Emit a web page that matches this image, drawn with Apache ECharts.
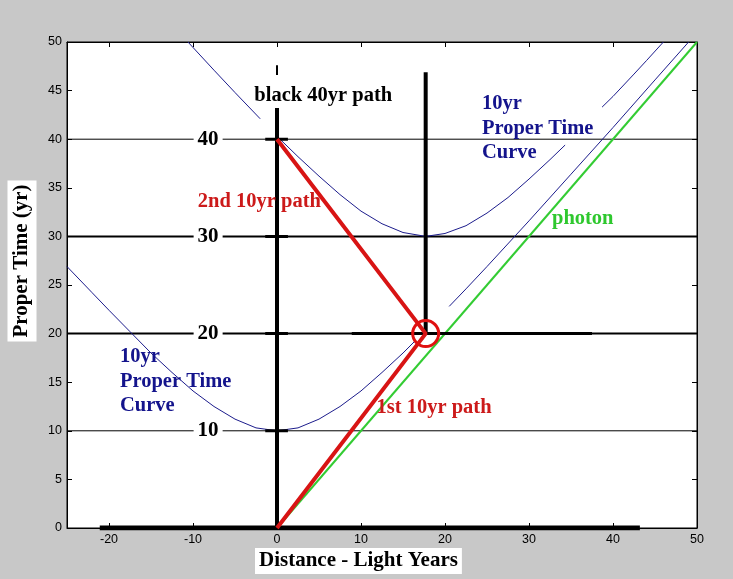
<!DOCTYPE html>
<html>
<head>
<meta charset="utf-8">
<script src="https://cdn.jsdelivr.net/npm/echarts@6/dist/echarts.min.js"></script>
<style>
html, body { margin: 0; padding: 0; background: #c8c8c8; }
#chart { width: 733px; height: 579px; }
</style>
</head>
<body>
<div id="chart"></div>
<script>
// tick labels
var xTickLabels = [-20, -10, 0, 10, 20, 30, 40, 50];

// reference lines across the plot (proper time levels)
var levelLines = [10, 20, 30, 40];
var levelWidths = [1, 2, 2, 1];
var levelLabelX = -8.2;

// 10yr proper time curve around the origin (gaps kept)
var lowerCurveA = [[-25, 26.9], [-22, 24.2], [-20, 22.4], [-17.5, 20.2], [-15, 18.0], [-12.5, 16.0],
  [-10, 14.1], [-7.5, 12.5], [-5, 11.2], [-2.5, 10.3], [0, 10.0], [2.5, 10.3], [5, 11.2],
  [7.5, 12.5], [10, 14.1], [12.5, 16.0], [15, 18.0], [16.5, 19.3]];
var lowerCurveB = [[20.5, 22.8], [22.5, 24.6], [25, 26.9], [30, 31.6], [35, 36.4], [40, 41.2],
  [45, 46.1], [49, 50.0]];

// 10yr proper time curve around the turn-around point
var upperCurveA = [[-10.6, 50.0], [-7.5, 47.1], [-5, 44.8], [-2, 42.1]];
var upperCurveB = [[0, 40.3], [2.5, 38.2], [5, 36.2], [7.5, 34.3], [10, 32.6], [12.5, 31.3],
  [15, 30.4], [17.7, 30.0], [20, 30.3], [22.5, 31.1], [25, 32.4], [27.5, 34.0], [30, 35.9],
  [32.5, 37.9], [34.3, 39.4]];
var upperCurveC = [[38.7, 43.3], [40, 44.4], [42.5, 46.7], [44, 48.1], [46, 50.0]];

var photon = [[0, 0], [50, 50]];
var redPath = [[0, 0], [17.7, 20], [0, 40]];
var turnPoint = [17.7, 20];

// thick black strokes [points, width]
var blackStrokes = [
  [[[0, 0], [0, 43.2]], 4],
  [[[0, 46.6], [0, 47.6]], 2],
  [[[17.7, 20], [17.7, 46.9]], 4],
  [[[8.9, 20], [37.5, 20]], 3],
  [[[-21.1, 0], [43.2, 0]], 5],
  [[[-1.4, 40], [1.3, 40]], 3],
  [[[-1.4, 30], [1.3, 30]], 3],
  [[[-1.4, 20], [1.3, 20]], 3],
  [[[-1.4, 10], [1.3, 10]], 3]
];

// annotations [x, y, text, colour, align]
var notes = [
  [5.5, 44.5, 'black 40yr path', '#000000', 'center'],
  [24.4, 41.1, '10yr\nProper Time\nCurve', '#14148c', 'left'],
  [-2.1, 33.6, '2nd 10yr path', '#cc1a1a', 'center'],
  [36.4, 31.8, 'photon', '#2ec82e', 'center'],
  [-18.7, 15.1, '10yr\nProper Time\nCurve', '#14148c', 'left'],
  [18.7, 12.4, '1st 10yr path', '#cc1a1a', 'center']
];

var serif = '"Liberation Serif", "Times New Roman", serif';
var chart = echarts.init(document.getElementById('chart'));

function lineSeries(data, color, width, z) {
  return {
    type: 'line', data: data, symbol: 'none', silent: true, z: z,
    lineStyle: { color: color, width: width }
  };
}

var series = [];
levelLines.forEach(function (y, i) {
  series.push(lineSeries([[-25, y], [50, y]], '#000', levelWidths[i], 1));
});
[lowerCurveA, lowerCurveB, upperCurveA, upperCurveB, upperCurveC].forEach(function (c) {
  series.push(lineSeries(c, '#1c1c8c', 1, 2));
});
series.push(lineSeries(photon, '#33cc33', 2, 3));
blackStrokes.forEach(function (s) {
  series.push(lineSeries(s[0], '#000', s[1], 4));
});
series.push(lineSeries(redPath, '#d81414', 4, 5));
series.push({
  type: 'scatter', data: [turnPoint], symbol: 'circle', symbolSize: 26, z: 6, silent: true,
  itemStyle: { color: 'rgba(0,0,0,0)', borderColor: '#e01010', borderWidth: 3, opacity: 1 }
});

// big level numbers on white boxes
series.push({
  type: 'scatter', symbolSize: 0, z: 7, silent: true,
  itemStyle: { opacity: 1 },
  data: levelLines.map(function (y) { return [levelLabelX, y]; }),
  label: {
    show: true, position: 'inside', formatter: function (p) { return p.value[1]; },
    fontFamily: serif, fontWeight: 'bold', fontSize: 21, color: '#000',
    backgroundColor: '#fff', padding: [0, 4]
  }
});

// text notes
series.push({
  type: 'scatter', symbolSize: 0, z: 8, silent: true,
  itemStyle: { opacity: 1 },
  data: notes.map(function (n) {
    return {
      value: [n[0], n[1]],
      label: {
        show: true, position: n[4] === 'left' ? 'right' : 'inside', distance: 0,
        formatter: n[2], color: n[3], align: n[4],
        fontFamily: serif, fontWeight: 'bold', fontSize: 20.5, lineHeight: 24.5
      }
    };
  })
});

var tickText = { color: '#000', fontFamily: '"Liberation Sans", Arial, sans-serif', fontSize: 12.5 };
var axisLineStyle = { show: true, onZero: false, lineStyle: { color: '#000' } };

chart.setOption({
  animation: false,
  backgroundColor: '#c8c8c8',
  grid: {
    left: 67, right: 36, top: 42, bottom: 51,
    show: true, backgroundColor: '#fff', borderColor: '#000', borderWidth: 1
  },
  xAxis: [{
    type: 'value', min: -25, max: 50, position: 'bottom',
    axisLine: axisLineStyle,
    axisTick: { show: true, inside: true, length: 5, customValues: xTickLabels, lineStyle: { color: '#000' } },
    axisLabel: Object.assign({ customValues: xTickLabels, margin: 5 }, tickText),
    splitLine: { show: false }
  }, {
    type: 'value', min: -25, max: 50, position: 'top',
    axisLine: axisLineStyle,
    axisTick: { show: true, inside: true, length: 5, customValues: xTickLabels, lineStyle: { color: '#000' } },
    axisLabel: { show: false },
    splitLine: { show: false }
  }],
  yAxis: [{
    type: 'value', min: 0, max: 50, interval: 5, position: 'left',
    axisLine: axisLineStyle,
    axisTick: { show: true, inside: true, length: 5, lineStyle: { color: '#000' } },
    axisLabel: Object.assign({ margin: 5 }, tickText),
    splitLine: { show: false }
  }, {
    type: 'value', min: 0, max: 50, interval: 5, position: 'right',
    axisLine: axisLineStyle,
    axisTick: { show: true, inside: true, length: 5, lineStyle: { color: '#000' } },
    axisLabel: { show: false },
    splitLine: { show: false }
  }],
  graphic: [{
    type: 'text', left: 255, top: 548, z: 10,
    style: {
      text: 'Distance - Light Years', font: 'bold 21px ' + serif, fill: '#000',
      backgroundColor: '#fff', padding: [2, 4, 3, 4]
    }
  }, {
    type: 'text', x: 22, y: 261, rotation: Math.PI / 2, z: 10,
    style: {
      text: 'Proper Time (yr)', font: 'bold 21px ' + serif, fill: '#000',
      align: 'center', verticalAlign: 'middle',
      backgroundColor: '#fff', padding: [4, 4, 4, 4]
    }
  }],
  series: series
});
</script>
</body>
</html>
